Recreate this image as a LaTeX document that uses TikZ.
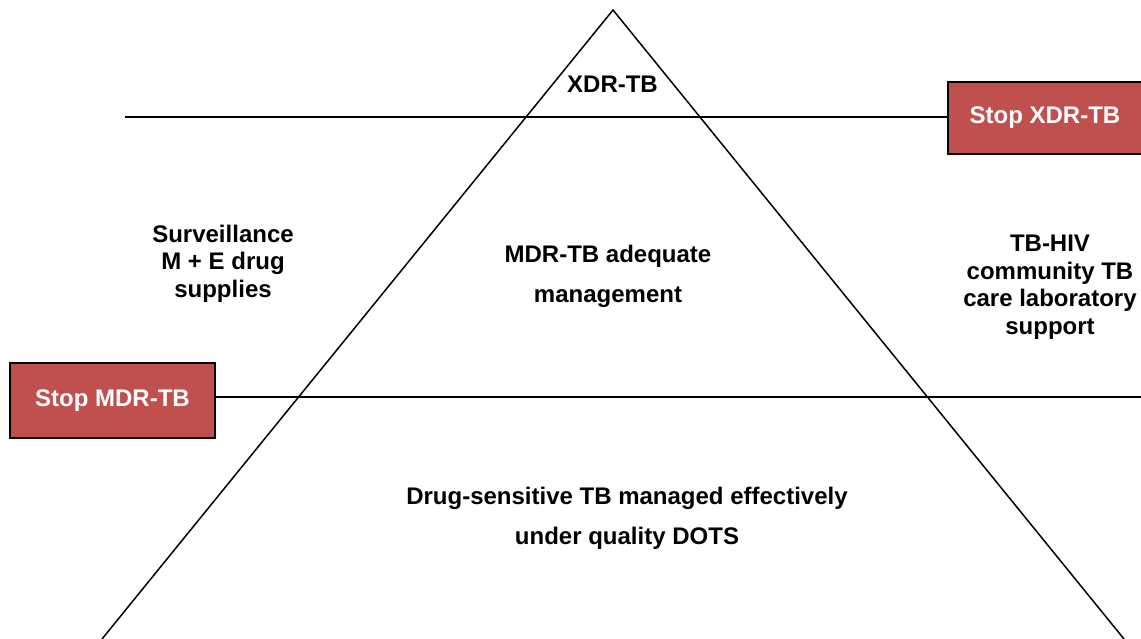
\documentclass[tikz,border=0pt]{standalone}
\usepackage{fontspec}
\setmainfont{Liberation Sans}
\usetikzlibrary{positioning}
\definecolor{stopred}{RGB}{192,80,77}
\tikzset{
  stopbox/.style={draw=black, line width=1.5bp, fill=stopred, text=white,
    font=\bfseries\fontsize{24bp}{27.5bp}\selectfont, inner sep=0pt},
  tiertext/.style={align=center, inner sep=0pt,
    font=\bfseries\fontsize{24bp}{27.5bp}\selectfont},
  divider/.style={line width=1.5bp},
}

\begin{document}
\begin{tikzpicture}[x=1bp, y=-1bp]
    \useasboundingbox (0,0) rectangle (1141,639);

    % The pyramid
    \coordinate (apex)  at (613,10);
    \coordinate (left)  at (102,639);
    \coordinate (right) at (1124,639);
    \draw[divider] (left) -- (apex) -- (right);

    % Stop boxes
    \node[stopbox, minimum width=194bp, minimum height=72bp] (xdr) at (1045,118) {Stop XDR-TB};
    \node[stopbox, minimum width=205bp, minimum height=75bp] (mdr) at (112.5,400.5) {Stop MDR-TB};

    % Dividing lines
    \coordinate (lineA) at (125,117);
    \coordinate (lineB) at (1145,397);
    \draw[divider] (lineA) -- (xdr.west |- lineA);
    \draw[divider] (mdr.east |- lineB) -- (lineB);

    % Texts
    \node[tiertext] (top)   at (612.5,84.5) {XDR-TB};
    \node[tiertext] (surv)  at (223,263.5) {Surveillance\\M + E drug\\supplies};
    \node[tiertext] (mid)   at (608,276) {MDR-TB adequate\\[12.5bp]management};
    \node[tiertext] (hiv)   at (1050,287) {TB-HIV\\community TB\\care laboratory\\support};
    \node[tiertext] (base)  at (627,518) {Drug-sensitive TB managed effectively\\[12.5bp]under quality DOTS};
\end{tikzpicture}
\end{document}
